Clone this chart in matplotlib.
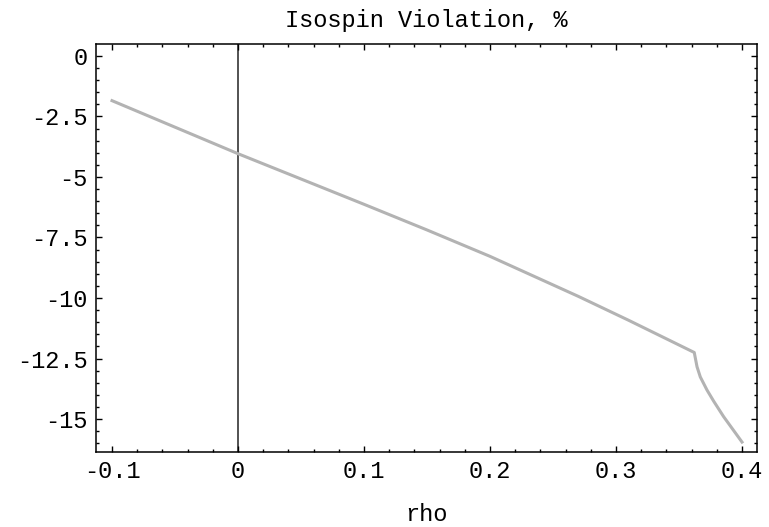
import matplotlib
matplotlib.use("Agg")
import matplotlib.pyplot as plt
from matplotlib.ticker import MultipleLocator, FixedLocator

# values
rho = [-0.1, 0.0, 0.1, 0.15, 0.2, 0.27, 0.31, 0.3621, 0.3643, 0.3669, 0.3722, 0.3775,
       0.3854, 0.4]
iso_violation = [-1.85, -4.04, -6.13, -7.19, -8.28, -9.93, -10.92, -12.25, -12.84, -13.26,
                 -13.80, -14.26, -14.90, -15.95]

x_ticks = [-0.1, 0.0, 0.1, 0.2, 0.3, 0.4]
x_labels = ["-0.1", "0", "0.1", "0.2", "0.3", "0.4"]
y_ticks = [0, -2.5, -5, -7.5, -10, -12.5, -15]
y_labels = ["0", "-2.5", "-5", "-7.5", "-10", "-12.5", "-15"]

plt.rcParams['font.family'] = ['Liberation Mono', 'DejaVu Sans Mono']
plt.rcParams['font.size'] = 17

fig = plt.figure(figsize=(7.69, 5.27), dpi=100)
ax = fig.add_axes([96 / 769, 1 - 452 / 527, (757 - 96) / 769, (452 - 44) / 527])

ax.axvline(0, color="#444444", lw=1.3, zorder=1)
ax.plot(rho, iso_violation, color="#b3b3b3", lw=2.2, zorder=2)

ax.set_xlim(-0.1127, 0.4119)
ax.set_ylim(-16.36, 0.49)

ax.xaxis.set_major_locator(FixedLocator(x_ticks))
ax.set_xticklabels(x_labels)
ax.yaxis.set_major_locator(FixedLocator(y_ticks))
ax.set_yticklabels(y_labels)
ax.xaxis.set_minor_locator(MultipleLocator(0.02))
ax.yaxis.set_minor_locator(MultipleLocator(0.5))

ax.tick_params(which="both", direction="in", top=True, right=True, width=1.0, colors="black")
ax.tick_params(which="major", length=4, pad=6)
ax.tick_params(which="minor", length=2)
for s in ax.spines.values():
    s.set_linewidth(1.1)

ax.set_title("Isospin Violation, %", fontsize=17, pad=12)
ax.set_xlabel("rho", fontsize=17, labelpad=14)

fig.savefig("out.png", dpi=100)
